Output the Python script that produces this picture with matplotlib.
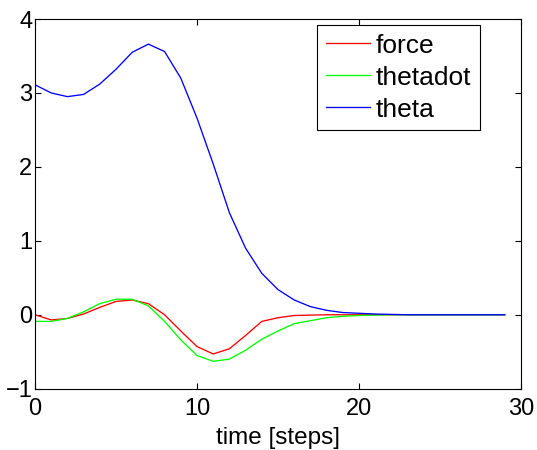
import numpy as np
import matplotlib
matplotlib.use("Agg")
import matplotlib.pyplot as plt

plt.rcParams['font.family'] = ['Liberation Sans', 'DejaVu Sans']

steps = list(range(30))
force = [0.00, -0.07, -0.05, 0.01, 0.10, 0.18, 0.20, 0.15, 0.00, -0.22,
         -0.43, -0.53, -0.46, -0.28, -0.09, -0.04, -0.01, -0.005, 0.0, 0.0,
         0.0, 0.0, 0.0, 0.0, 0.0, 0.0, 0.0, 0.0, 0.0, 0.0]
thetadot = [-0.09, -0.09, -0.05, 0.04, 0.15, 0.21, 0.21, 0.12, -0.09, -0.34,
            -0.55, -0.63, -0.60, -0.48, -0.33, -0.22, -0.12, -0.08, -0.04, -0.02,
            -0.01, -0.005, 0.0, 0.0, 0.0, 0.0, 0.0, 0.0, 0.0, 0.0]
theta = [3.11, 3.00, 2.95, 2.98, 3.12, 3.32, 3.55, 3.66, 3.56, 3.20,
         2.66, 2.04, 1.38, 0.90, 0.56, 0.34, 0.20, 0.11, 0.06, 0.03,
         0.02, 0.01, 0.005, 0.0, 0.0, 0.0, 0.0, 0.0, 0.0, 0.0]

fig = plt.figure(figsize=(5.37, 4.5), dpi=100)
ax = fig.add_axes([35/537, 1-388.7/450, (521-35)/537, (388.7-19)/450])

lw = 0.95
ax.plot(steps, force, color='#ff0000', lw=lw, label='force')
ax.plot(steps, thetadot, color='#00ff00', lw=lw, label='thetadot')
ax.plot(steps, theta, color='#0000ff', lw=lw, label='theta')

ax.set_xlim(0, 30)
ax.set_ylim(-1, 4)
ax.set_xticks([0, 10, 20, 30])
ax.set_yticks([-1, 0, 1, 2, 3, 4])
ax.tick_params(direction='in', top=True, right=True, length=4, width=0.8,
               labelsize=17)
ax.tick_params(axis='x', pad=7)
ax.tick_params(axis='y', pad=2)
for s in ax.spines.values():
    s.set_linewidth(0.8)
ax.set_xlabel('time [steps]', fontsize=17.5, labelpad=5)

leg = fig.legend(loc='upper left', bbox_to_anchor=(317/537, 1-25/450),
                 borderaxespad=0, fontsize=19, handlelength=1.67,
                 handletextpad=0.22, labelspacing=0.3, borderpad=0.33,
                 fancybox=False, framealpha=1, edgecolor='black')
leg.get_frame().set_linewidth(0.8)

fig.savefig('out.png', dpi=100)
